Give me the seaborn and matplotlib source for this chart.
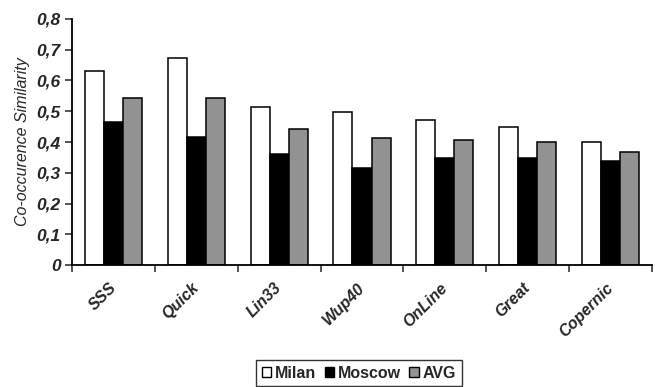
import pandas as pd
import seaborn as sns
import numpy as np
import matplotlib.pyplot as plt
import matplotlib.transforms as mtransforms
from matplotlib.patches import Patch
from matplotlib.ticker import FixedLocator, FuncFormatter

methods = ['SSS', 'Quick', 'Lin33', 'Wup40', 'OnLine', 'Great', 'Copernic']
milan = [0.63, 0.672, 0.515, 0.499, 0.472, 0.45, 0.401]
moscow = [0.464, 0.415, 0.362, 0.317, 0.349, 0.349, 0.337]
avg = [0.543, 0.543, 0.441, 0.412, 0.406, 0.40, 0.368]
series = ['Milan', 'Moscow', 'AVG']
colors = ['#ffffff', '#000000', '#929292']

df = pd.DataFrame({'method': methods * 3,
                   'value': milan + moscow + avg,
                   'type': [s for s in series for _ in methods]})

sns.set_style('white')
plt.rcParams['font.family'] = ['Liberation Sans', 'DejaVu Sans']

fig = plt.figure(figsize=(6.55, 3.87), dpi=100)
ax = fig.add_axes([0.1099, 0.315, 0.9954 - 0.1099, 0.951 - 0.315])

sns.barplot(data=df, x='method', y='value', hue='type', hue_order=series,
            palette=colors, width=0.69, edgecolor='black', linewidth=1.1,
            legend=False, ax=ax)

ax.set_xlim(-0.5, len(methods) - 0.5)
ax.set_ylim(0, 0.8)
ax.set_yticks(np.arange(0, 0.81, 0.1))
ax.yaxis.set_major_formatter(FuncFormatter(lambda v, p: '0' if abs(v) < 1e-9 else f'{v:.1f}'.replace('.', ',')))
for lab in ax.get_yticklabels():
    lab.set_fontweight('bold')
    lab.set_fontstyle('italic')
    lab.set_fontsize(12.5)
ax.tick_params(axis='y', direction='out', length=5, width=1.1, pad=3, left=True)

# category boundaries carry the tick marks, labels sit at centers
ax.xaxis.set_minor_locator(FixedLocator(np.arange(-0.5, len(methods), 1.0)))
ax.tick_params(axis='x', which='minor', direction='out', length=5, width=1.1, bottom=True)
ax.tick_params(axis='x', which='major', length=0, pad=11)
ax.set_xticks(range(len(methods)))
offset = mtransforms.ScaledTranslation(-5 / 100, 0, fig.dpi_scale_trans)
ax.set_xticklabels(methods, rotation=45, ha='right', va='top', rotation_mode='anchor',
                   fontweight='bold', fontstyle='italic', fontsize=11.5)
for lab in ax.get_xticklabels():
    lab.set_transform(lab.get_transform() + offset)

ax.set_xlabel('')
ax.set_ylabel('Co-occurence Similarity', fontstyle='italic', fontsize=11.5, labelpad=5)

sns.despine(ax=ax)
for sp in ['left', 'bottom']:
    ax.spines[sp].set_linewidth(1.3)
    ax.spines[sp].set_color('black')

handles = [Patch(facecolor=c, edgecolor='black', linewidth=1.0) for c in colors]
leg = fig.legend(handles, series, loc='upper center', bbox_to_anchor=(0.548, 0.07),
                 borderaxespad=0, ncol=3, frameon=True, fancybox=False,
                 handlelength=0.6, handleheight=0.6,
                 handletextpad=0.25, columnspacing=0.5, borderpad=0.35,
                 prop={'weight': 'bold', 'size': 11.5})
leg.get_frame().set_edgecolor('black')
leg.get_frame().set_linewidth(1.0)

fig.savefig('out.png', dpi=100)
